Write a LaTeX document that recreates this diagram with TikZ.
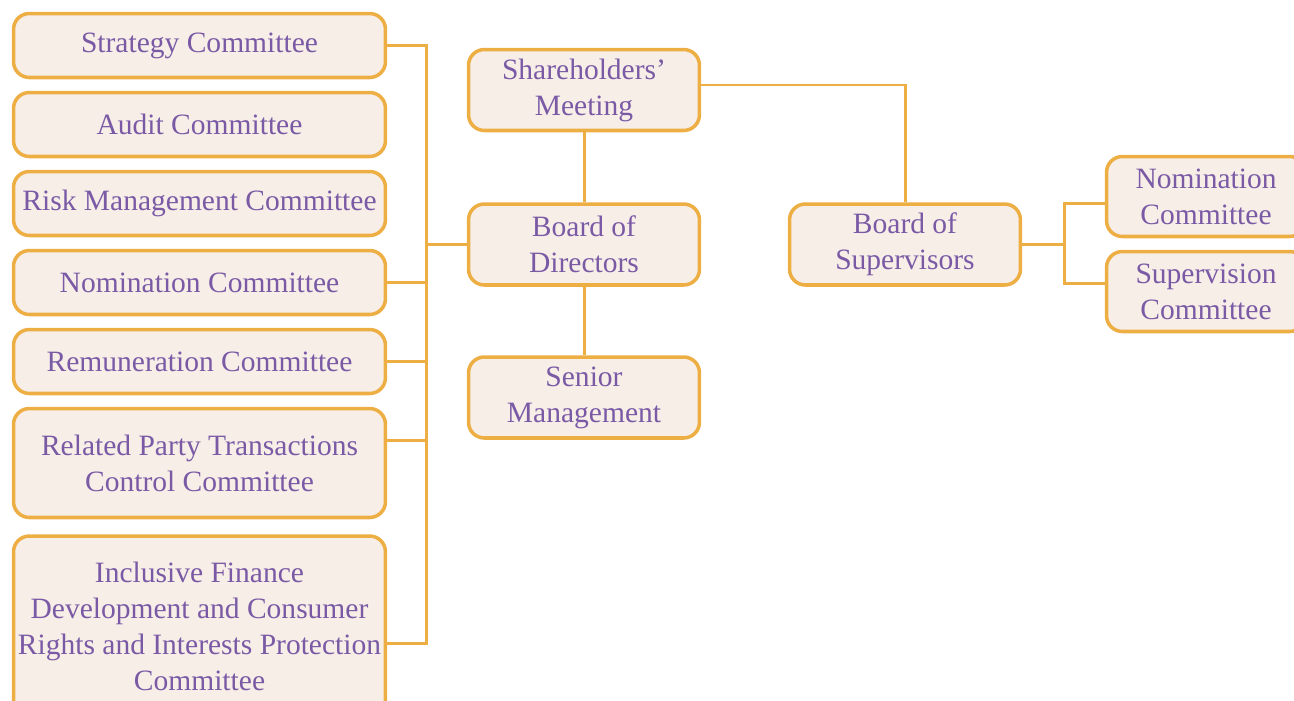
\documentclass[tikz,border=0pt]{standalone}
\usepackage{fontspec}
\setmainfont{Liberation Serif}
\usetikzlibrary{positioning,calc}
\definecolor{boxline}{HTML}{EDAE44}
\definecolor{boxfill}{HTML}{F7EEE8}
\definecolor{boxtext}{HTML}{7A5AA5}
\tikzset{
  org/.style={draw=boxline, fill=boxfill, line width=2pt, rounded corners=9pt,
    text=boxtext, align=center, inner sep=0pt, font=\fontsize{16.8}{20.5}\selectfont},
  cmte/.style={org, minimum width=7.44cm, minimum height=1.28cm},
  body/.style={org, minimum width=4.62cm, minimum height=1.62cm},
  side/.style={org, minimum width=3.98cm, minimum height=1.6cm},
  link/.style={draw=boxline, line width=1.7pt},
}

\begin{document}
\begin{tikzpicture}[x=0.02cm, y=-0.02cm]
\useasboundingbox (0,0) rectangle (1294,700);

% board committees
\node[cmte] (strat) at (199.5,45.5) {Strategy Committee};
\node[cmte] (audit) at (199.5,124.5) {Audit Committee};
\node[cmte] (risk) at (199.5,203.5) {Risk Management Committee};
\node[cmte] (nom) at (199.5,282.5) {Nomination Committee};
\node[cmte] (remu) at (199.5,361.5) {Remuneration Committee};
\node[cmte, minimum height=2.18cm] (rpt) at (199.5,463) {Related Party Transactions\\Control Committee};
\node[cmte, minimum height=3.6cm] (incl) at (199.5,626) {Inclusive Finance\\Development and Consumer\\Rights and Interests Protection\\Committee};

% main bodies
\node[body] (share) at (584,90) {Shareholders'\\Meeting};
\node[body] (bod) at (584,244.5) {Board of\\Directors};
\node[body] (senior) at (584,397.5) {Senior\\Management};
\node[body] (bos) at (905,244.5) {Board of\\Supervisors};

% supervisory committees
\node[side] (snom) at (1206,196.5) {Nomination\\Committee};
\node[side] (ssup) at (1206,291.5) {Supervision\\Committee};

% buses
\coordinate (bus) at (426,0);
\coordinate (sbus) at (1064,0);
\coordinate (rpt tap) at ([yshift=0.46cm]rpt.east);
\coordinate (incl tap) at ([yshift=-0.34cm]incl.east);
\coordinate (snom tap) at ([yshift=-0.14cm]snom.west);
\coordinate (ssup tap) at ([yshift=0.16cm]ssup.west);

\draw[link] (strat.east) -- (strat.east -| bus) |- (incl tap);
\draw[link] (nom.east) -- (nom.east -| bus);
\draw[link] (remu.east) -- (remu.east -| bus);
\draw[link] (rpt tap) -- (rpt tap -| bus);
\draw[link] (bod.west) -- (bod.west -| bus);

\draw[link] (share) -- (bod);
\draw[link] (bod) -- (senior);
\draw[link] ([yshift=0.1cm]share.east) -| (bos.north);

\draw[link] (bos.east) -- (bos.east -| sbus);
\draw[link] (snom tap) -- (snom tap -| sbus) -- (ssup tap -| sbus) -- (ssup tap);
\end{tikzpicture}
\end{document}
